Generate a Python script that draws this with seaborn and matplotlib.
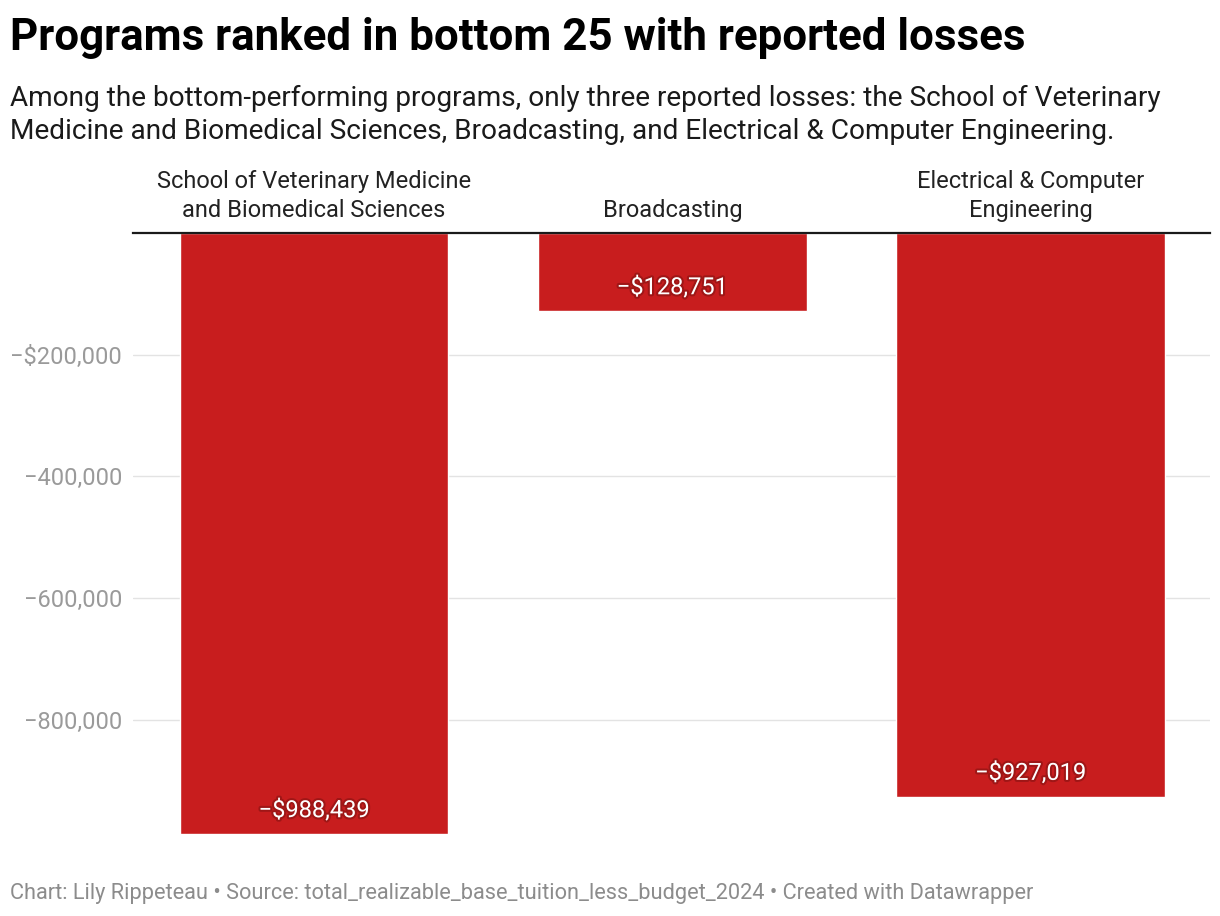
import matplotlib
matplotlib.use("Agg")
import matplotlib.pyplot as plt
import matplotlib.patheffects as pe
import seaborn as sns

programs = [
    "School of Veterinary Medicine\nand Biomedical Sciences",
    "Broadcasting",
    "Electrical & Computer\nEngineering",
]
losses = [-988439, -128751, -927019]
y_ticks = [-200000, -400000, -600000, -800000]
y_tick_labels = ["\u2212$200,000", "\u2212400,000", "\u2212600,000", "\u2212800,000"]

BAR_RED = "#C81D1E"
W, H = 1220, 916

sns.set_theme(style="white")
plt.rcParams["font.family"] = ["Roboto", "DejaVu Sans"]

fig = plt.figure(figsize=(W / 100, H / 100), dpi=100)
ax = fig.add_axes([133 / W, 1 - 834.3 / H, (1210 - 133) / W, (834.3 - 233) / H])

sns.barplot(x=programs, y=losses, color=BAR_RED, saturation=1, width=0.75, ax=ax)

ax.set_xlim(-0.505, 2.5)
ax.set_ylim(min(losses), 0)
ax.set_yticks(y_ticks)
ax.set_yticklabels(y_tick_labels)
ax.tick_params(axis="y", length=0, pad=8, labelsize=17, labelcolor="#9a9a9a")
ax.yaxis.grid(True, color="#e3e3e3", linewidth=1)
ax.set_axisbelow(True)

ax.xaxis.tick_top()
ax.tick_params(axis="x", length=0, pad=8, labelsize=17, labelcolor="#222222")
for t in ax.get_xticklabels():
    t.set_linespacing(1.3)
ax.set_xlabel("")
ax.set_ylabel("")

for side in ["left", "right", "bottom"]:
    ax.spines[side].set_visible(False)
ax.spines["top"].set_color("#1a1a1a")
ax.spines["top"].set_linewidth(1.6)
ax.spines["top"].set_zorder(5)

# value labels inside the bar ends
for i, v in enumerate(losses):
    label = "\u2212$" + f"{abs(v):,}"
    ax.annotate(label, (i, v), xytext=(0, 17), textcoords="offset points",
                ha="center", va="center", color="white", fontsize=17,
                path_effects=[pe.withStroke(linewidth=3, foreground="#6e0e0e", alpha=0.45)])

fig.text(10 / W, 1 - 50 / H, "Programs ranked in bottom 25 with reported losses",
         fontsize=31.6, fontweight="bold", color="#000000", va="baseline", ha="left")
fig.text(10 / W, 1 - 106 / H,
         "Among the bottom-performing programs, only three reported losses: the School of Veterinary",
         fontsize=20.2, color="#1a1a1a", va="baseline", ha="left")
fig.text(10 / W, 1 - 139 / H,
         "Medicine and Biomedical Sciences, Broadcasting, and Electrical & Computer Engineering.",
         fontsize=20.2, color="#1a1a1a", va="baseline", ha="left")
fig.text(10 / W, 1 - 899 / H,
         "Chart: Lily Rippeteau \u2022 Source: total_realizable_base_tuition_less_budget_2024 \u2022 Created with Datawrapper",
         fontsize=15.7, color="#8c8c8c", va="baseline", ha="left")

fig.savefig("out.png", dpi=100)
